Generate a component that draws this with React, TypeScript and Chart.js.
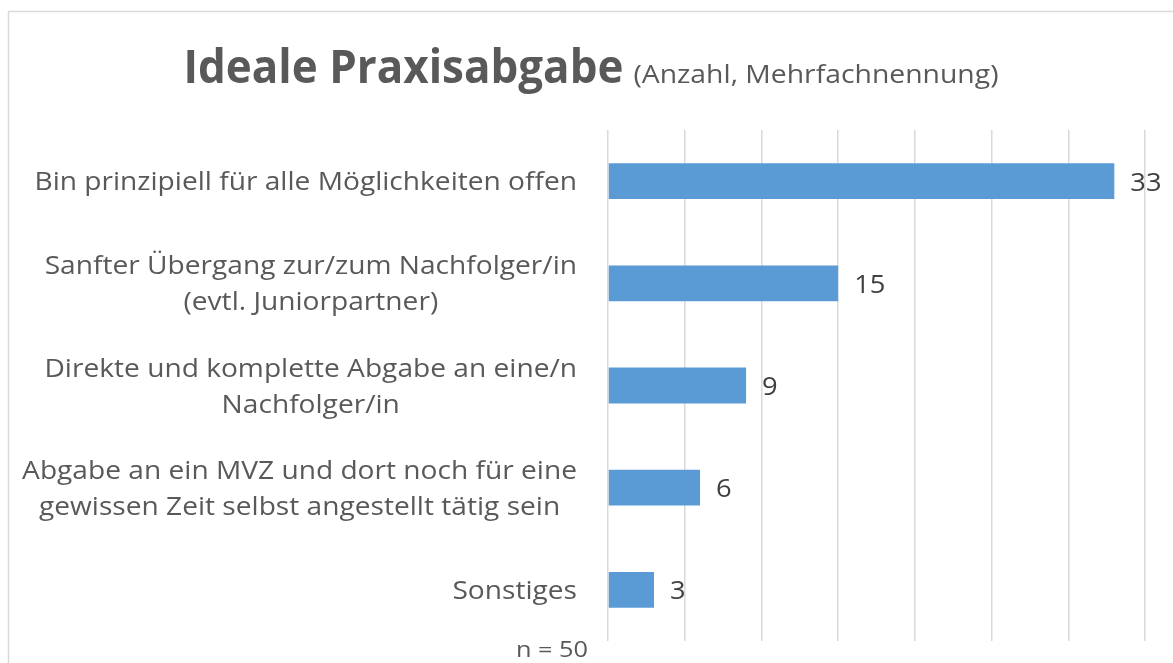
import React, { useEffect, useRef } from "react";
import { Chart, registerables } from "chart.js";

Chart.register(...registerables);

const titleMain = "Ideale Praxisabgabe";
const titleSub = "(Anzahl, Mehrfachnennung)";
const categories: string[][] = [
  ["Bin prinzipiell für alle Möglichkeiten offen"],
  ["Sanfter Übergang zur/zum Nachfolger/in", "(evtl. Juniorpartner)"],
  ["Direkte und komplette Abgabe an eine/n", "Nachfolger/in"],
  ["Abgabe an ein MVZ und dort noch für eine", "gewissen Zeit selbst angestellt tätig sein"],
  ["Sonstiges"],
];
const values: number[] = [33, 15, 9, 6, 3];
const sampleNote = "n = 50";
const axisMax = 35;
const axisStep = 5;

const FONT = "'Open Sans', sans-serif";
const TEXT_GRAY = "#595959";
const LABEL_DARK = "#404040";
const BAR_BLUE = "#5b9bd5";
const GRID_GRAY = "#d9d9d9";

function drawScaled(
  ctx: CanvasRenderingContext2D,
  text: string,
  x: number,
  y: number,
  align: CanvasTextAlign,
  sx: number
) {
  ctx.save();
  ctx.translate(x, y);
  ctx.scale(sx, 1);
  ctx.textAlign = align;
  ctx.fillText(text, 0, 0);
  ctx.restore();
}

const drawPlugin = {
  id: "customDraw",
  beforeDraw(chart: any) {
    const ctx = chart.ctx as CanvasRenderingContext2D;
    ctx.save();
    ctx.strokeStyle = GRID_GRAY;
    ctx.lineWidth = 1.5;
    ctx.beginPath();
    ctx.moveTo(8.5, chart.height + 2);
    ctx.lineTo(8.5, 11.5);
    ctx.lineTo(chart.width + 2, 11.5);
    ctx.stroke();
    ctx.restore();
  },
  afterDraw(chart: any) {
    const ctx = chart.ctx as CanvasRenderingContext2D;
    const xScale = chart.scales.x;
    const yScale = chart.scales.y;
    ctx.save();

    // Title (bold part + regular part on one line)
    const boldFont = `bold 47px ${FONT}`;
    const regFont = `26px ${FONT}`;
    const sxBold = 0.935;
    const sxReg = 1.09;
    ctx.font = boldFont;
    const wBold = ctx.measureText(titleMain).width * sxBold;
    ctx.font = regFont;
    const gap = 10;
    const wReg = ctx.measureText(titleSub).width * sxReg;
    const total = wBold + gap + wReg;
    const cx = 591;
    const tx = cx - total / 2;
    const baseY = 83;
    ctx.fillStyle = TEXT_GRAY;
    ctx.textBaseline = "alphabetic";
    ctx.font = boldFont;
    drawScaled(ctx, titleMain, tx, baseY, "left", sxBold);
    ctx.font = regFont;
    drawScaled(ctx, titleSub, tx + wBold + gap, baseY, "left", sxReg);

    // Category labels: block right-aligned, lines centered within block
    const sxCat = 1.125;
    ctx.font = `25px ${FONT}`;
    ctx.textBaseline = "middle";
    const rightEdge = xScale.left - 31;
    const lh = 36;
    categories.forEach((lines, i) => {
      const y = yScale.getPixelForValue(i) + 2;
      const blockW = Math.max(...lines.map((l) => ctx.measureText(l).width)) * sxCat;
      const lx = rightEdge - blockW / 2;
      lines.forEach((line, j) => {
        const ly = y + (j - (lines.length - 1) / 2) * lh;
        drawScaled(ctx, line, lx, ly, "center", sxCat);
      });
    });

    // Value labels
    ctx.font = `26px ${FONT}`;
    ctx.fillStyle = LABEL_DARK;
    values.forEach((v, i) => {
      const x = xScale.getPixelForValue(v) + 16;
      const y = yScale.getPixelForValue(i);
      drawScaled(ctx, String(v), x, y + 2, "left", 1.05);
    });

    // Sample note
    ctx.font = `22px ${FONT}`;
    ctx.fillStyle = TEXT_GRAY;
    ctx.textBaseline = "alphabetic";
    drawScaled(ctx, sampleNote, xScale.left - 20, 657, "right", 1.15);

    ctx.restore();
  },
};

export default function App() {
  const canvasRef = useRef<HTMLCanvasElement | null>(null);

  useEffect(() => {
    if (!canvasRef.current) return;
    const chart = new Chart(canvasRef.current, {
      type: "bar",
      data: {
        labels: categories.map((c) => c.join(" ")),
        datasets: [
          {
            data: values,
            backgroundColor: BAR_BLUE,
            borderWidth: 0,
            barPercentage: 0.35,
            categoryPercentage: 1.0,
          },
        ],
      },
      options: {
        indexAxis: "y",
        animation: false,
        responsive: false,
        maintainAspectRatio: false,
        layout: { padding: { top: 130, right: 28, bottom: 22, left: 0 } },
        plugins: {
          legend: { display: false },
          title: { display: false },
          tooltip: { enabled: false },
        },
        scales: {
          x: {
            min: 0,
            max: axisMax,
            ticks: { display: false, stepSize: axisStep },
            grid: { color: GRID_GRAY, lineWidth: 1.5, drawTicks: false },
            border: { display: false },
            afterFit: (scale: any) => {
              scale.height = 0;
            },
          },
          y: {
            ticks: { display: false },
            grid: { display: false, drawTicks: false },
            border: { display: false },
            afterFit: (scale: any) => {
              scale.width = 608;
            },
          },
        },
      },
      plugins: [drawPlugin],
    });
    return () => chart.destroy();
  }, []);

  return (
    <div style={{ position: "fixed", left: 0, top: 0, width: 1173, height: 663, background: "#fff" }}>
      <canvas ref={canvasRef} width={1173} height={663} style={{ width: 1173, height: 663, display: "block" }} />
    </div>
  );
}
